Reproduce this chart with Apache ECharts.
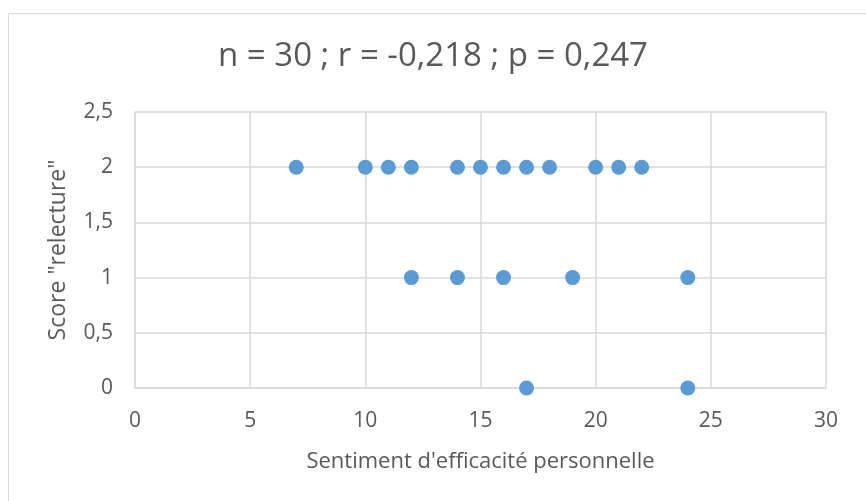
<!DOCTYPE html>
<html><head><meta charset="utf-8">
<script src="https://cdn.jsdelivr.net/npm/echarts@6/dist/echarts.min.js"></script>
<style>html,body{margin:0;padding:0;background:#fff}#c{width:866px;height:501px}</style>
</head><body><div id="c"></div>
<script>
const titleText = "n = 30 ; r = -0,218 ; p = 0,247";
const xName = "Sentiment d'efficacité personnelle";
const yName = 'Score "relecture"';
const xValues = [7,10,11,12,14,15,16,17,18,20,21,22, 12,14,16,19,24, 17,24];
const yValues = [2,2,2,2,2,2,2,2,2,2,2,2, 1,1,1,1,1, 0,0];
const xTicks = [0,5,10,15,20,25,30];
const yTicks = [0,0.5,1,1.5,2,2.5];

const points = xValues.map((x,i)=>[x,yValues[i]]);
const chart = echarts.init(document.getElementById('c'));
const font = '"Open Sans", "Noto Sans", sans-serif';
chart.setOption({
  animation:false,
  graphic:[{type:'rect',shape:{x:8.5,y:13.5,width:1000,height:1000},style:{fill:'none',stroke:'#d9d9d9',lineWidth:1},z:-1}],
  title:{text:titleText,left:'center',top:35,textStyle:{color:'#595959',fontSize:33,fontWeight:'normal',fontFamily:font}},
  grid:{left:135,right:40,top:112,bottom:113},
  xAxis:{type:'value',min:xTicks[0],max:xTicks[xTicks.length-1],interval:5,
    name:xName,nameLocation:'middle',nameGap:63,
    nameTextStyle:{color:'#595959',fontSize:22,fontFamily:font},
    axisLine:{show:true,lineStyle:{color:'#d9d9d9',width:1.5}},axisTick:{show:false},
    axisLabel:{color:'#595959',fontSize:21,fontFamily:font,margin:23},
    splitLine:{show:true,lineStyle:{color:'#d9d9d9',width:1.5}}},
  yAxis:{type:'value',min:yTicks[0],max:yTicks[yTicks.length-1],interval:0.5,
    name:yName,nameLocation:'middle',nameGap:65,
    nameTextStyle:{color:'#595959',fontSize:23,fontFamily:font},
    axisLine:{show:true,lineStyle:{color:'#d9d9d9',width:1.5}},axisTick:{show:false},
    axisLabel:{color:'#595959',fontSize:21,fontFamily:font,margin:22,formatter:v=>String(v).replace('.',',')},
    splitLine:{show:true,lineStyle:{color:'#d9d9d9',width:1.5}}},
  series:[{type:'scatter',data:points,symbol:'circle',symbolSize:15,itemStyle:{color:'#5b9bd5',opacity:1}}]
});
</script></body></html>
